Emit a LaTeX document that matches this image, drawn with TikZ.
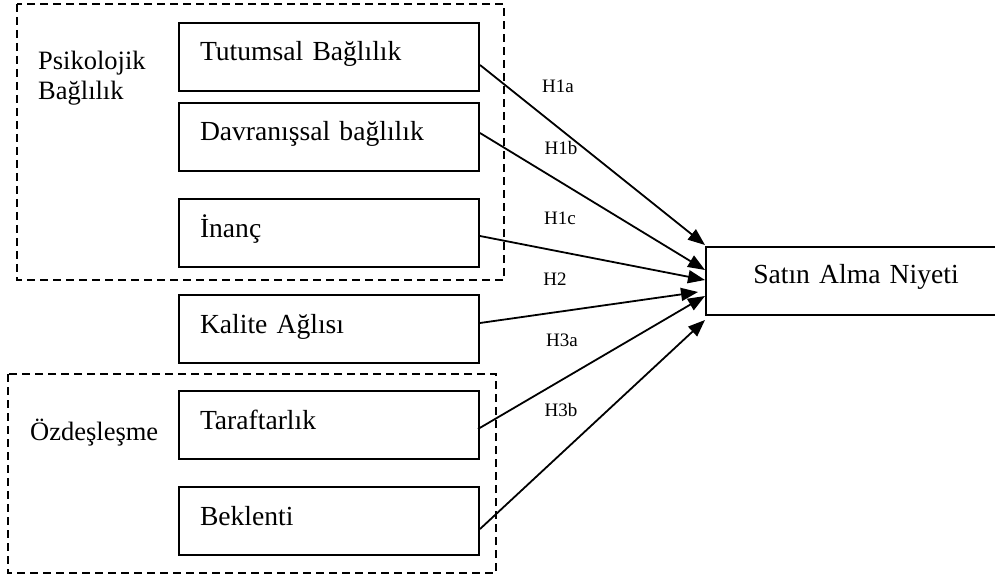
\documentclass[tikz,border=0pt]{standalone}
\usepackage{fontspec}
\setmainfont{Liberation Serif}
\usetikzlibrary{arrows.meta,positioning,calc}

\begin{document}
\begin{tikzpicture}[x=1pt, y=-1pt,
  box/.style={rectangle, draw, line width=2pt, anchor=north west,
              minimum width=300pt, minimum height=68pt, text width=258pt,
              inner xsep=21pt, align=left, font=\fontsize{27.6}{30}\selectfont,
              text height=19pt, text depth=11pt},
  grp/.style={line width=2pt, dash pattern=on 8pt off 5pt},
  hdr/.style={font=\fontsize{26.5}{30}\selectfont, align=left, anchor=west, inner sep=0pt},
  arr/.style={-{Triangle[length=17pt,width=13pt]}, line width=1.8pt},
  lbl/.style={font=\fontsize{19}{22}\selectfont, inner sep=0pt}
]
\useasboundingbox (0,0) rectangle (995,577);

% groups
\draw[grp] (17,4) rectangle (504,280);
\draw[grp] (8,374) rectangle (496,573);
\node[hdr] (psiko) at (38,78) {Psikolojik\\Bağlılık};
\node[hdr] (ozdes) at (30,433) {Özdeşleşme};

% predictors
\node[box] (tutum)  at (178,22)  {Tutumsal Bağlılık};
\node[box] (davran) at (178,102) {Davranışsal bağlılık};
\node[box] (inanc)  at (178,198) {İnanç};
\node[box] (kalite) at (178,294) {Kalite Ağlısı};
\node[box] (taraf)  at (178,390) {Taraftarlık};
\node[box] (beklen) at (178,486) {Beklenti};

% outcome
\node[box, align=center, text depth=15pt] (satin) at (705,246) {Satın Alma Niyeti};

\coordinate (e1a) at (705,245);
\coordinate (e1b) at (705,270);
\coordinate (e1c) at (705,280);
\coordinate (e2)  at (698,292);
\coordinate (e3a) at (705,296);
\coordinate (e3b) at (705,320);

\draw[arr] ([yshift=-8pt]tutum.east) -- (e1a);
\draw[arr] ([yshift=4pt]davran.east) -- (e1b);
\draw[arr] ([yshift=-3pt]inanc.east) -- (e1c);
\draw[arr] ([yshift=6pt]kalite.east) -- (e2);
\draw[arr] ([xshift=-2pt,yshift=-4pt]taraf.east) -- (e3a);
\draw[arr] ([yshift=-8pt]beklen.east) -- (e3b);

\node[lbl] (h1a) at (558,86)  {H1a};
\node[lbl] (h1b) at (561,148) {H1b};
\node[lbl] (h1c) at (560,218) {H1c};
\node[lbl] (h2)  at (555,279) {H2};
\node[lbl] (h3a) at (562,340) {H3a};
\node[lbl] (h3b) at (561,410) {H3b};
\end{tikzpicture}
\end{document}
